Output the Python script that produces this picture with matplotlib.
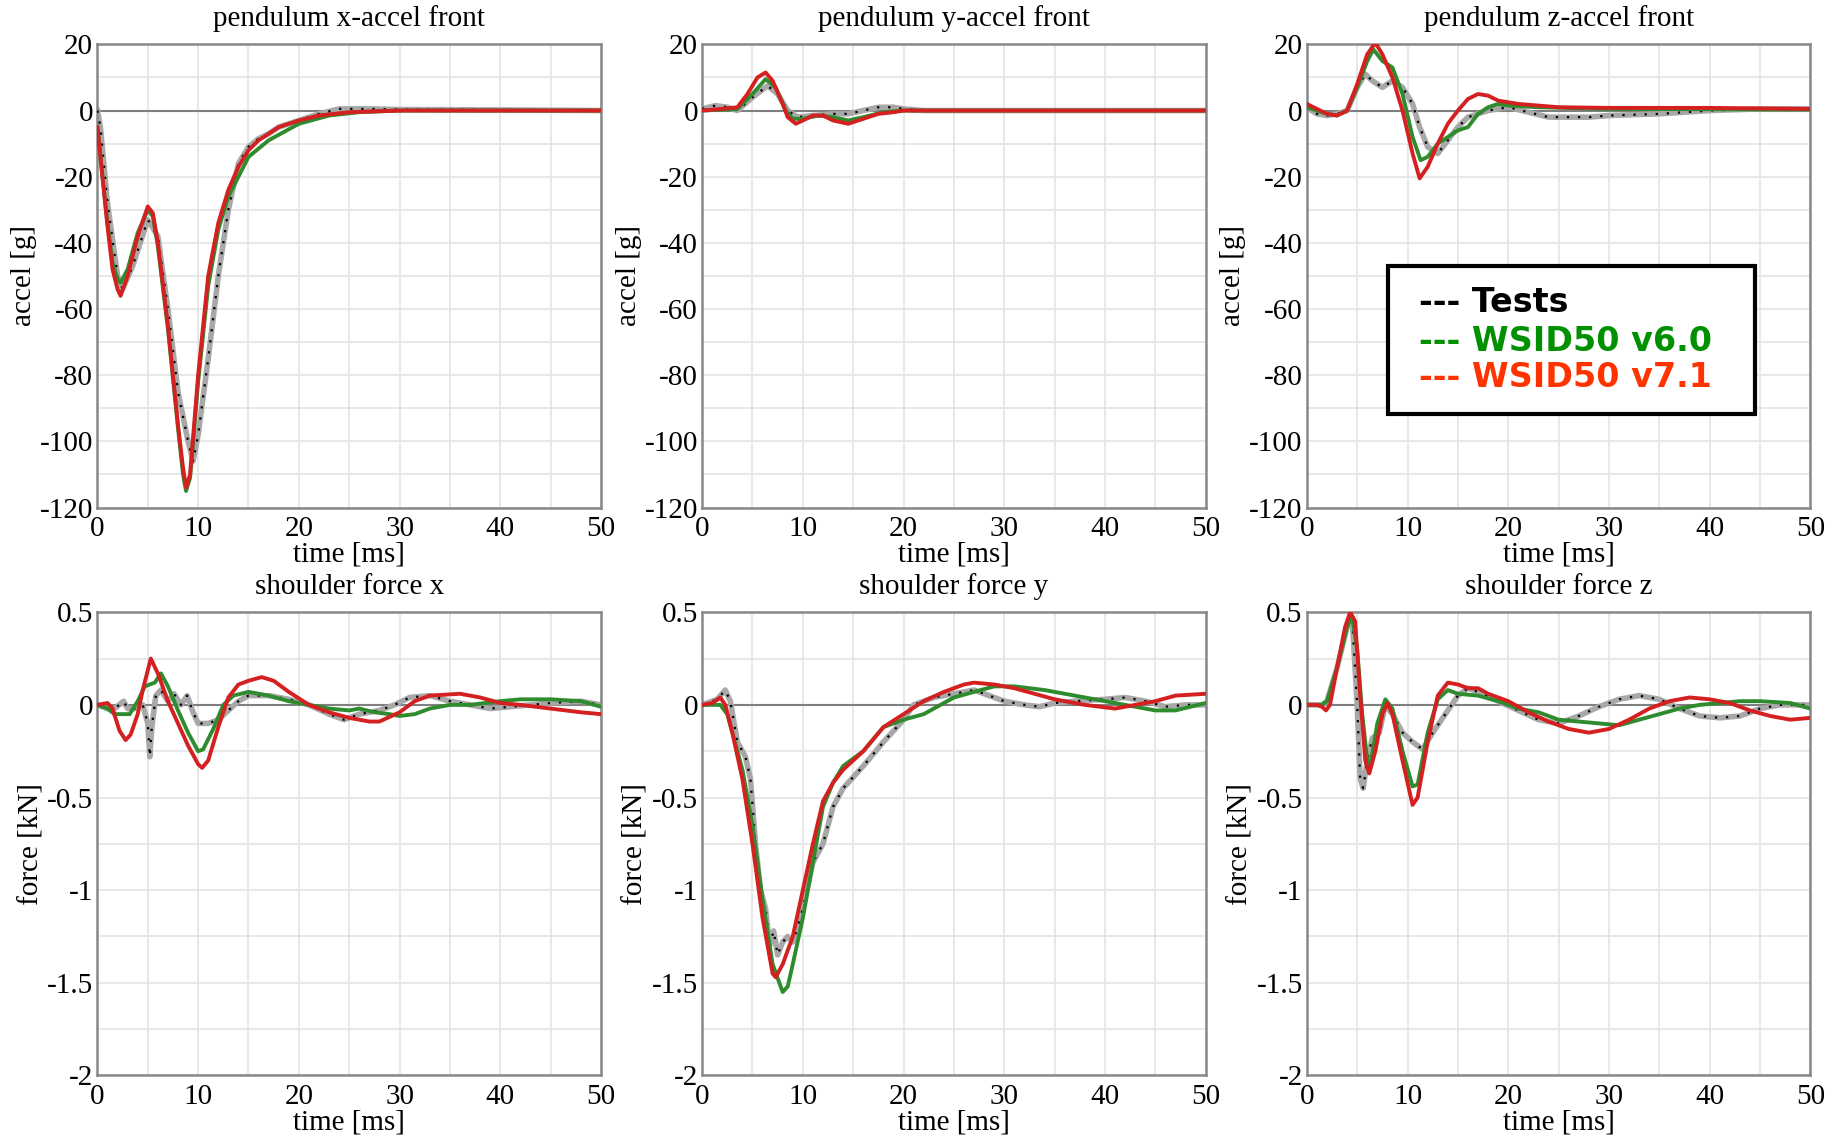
import numpy as np
import matplotlib.pyplot as plt
from matplotlib.patches import Rectangle

plt.rcParams['font.family'] = ['Liberation Serif', 'DejaVu Serif']
plt.rcParams['axes.unicode_minus'] = False

# ---- pendulum x-accel front [g] ----
px_test_t = [0, 0.3, 1, 2, 2.5, 3.5, 5, 6, 7, 8, 9, 9.5, 10, 11, 12, 13, 14, 15, 16, 17, 18, 20, 22, 24, 27, 30, 40, 50]
px_test_v = [0, -5, -28, -50, -54, -47, -33, -38, -60, -85, -100, -106, -98, -75, -50, -30, -16, -11, -8.5, -7, -5, -3, -1, 0.5, 0.5, 0.3, 0.2, 0]
px_v6_t = [0, 0.5, 1, 1.5, 2, 2.3, 3, 4, 5, 5.5, 6, 7, 8, 8.5, 8.8, 9.2, 10, 11, 12, 13, 15, 17, 20, 23, 26, 30, 50]
px_v6_v = [-5, -20, -34, -46, -51, -52, -48, -37, -30, -32, -41, -66, -96, -110, -115, -111, -82, -53, -36, -26, -14, -9, -4, -1.5, -0.5, 0, 0]
px_v7_t = [0, 0.5, 1, 1.5, 2, 2.3, 3, 4, 5, 5.5, 6, 7, 8, 8.5, 8.8, 9.2, 10, 11, 12, 13, 14, 15, 16, 18, 20, 22, 25, 30, 50]
px_v7_v = [-5, -20, -35, -48, -54, -56, -50, -38, -29, -31, -40, -65, -95, -108, -114, -110, -80, -50, -34, -24, -17, -12, -9, -5, -3, -1.5, -0.5, 0, 0]

# ---- pendulum y-accel front [g] ----
py_test_t = [0, 1.3, 2.5, 3.5, 5, 6.5, 7.5, 8.5, 9.5, 11, 13, 14.5, 16, 17.5, 19, 20, 22, 50]
py_test_v = [0.5, 1.5, 1, 0, 4, 7.5, 5, 0, -2, -1.5, -1, -1, 0, 1, 1, 0.5, 0, 0]
py_v6_t = [0, 3.5, 5, 6.3, 7.3, 8.3, 9, 10, 11.5, 13, 14.5, 16, 18, 20, 50]
py_v6_v = [0, 0.5, 5, 9.5, 7, 0, -2.5, -2.5, -1.5, -2, -3, -2, -0.5, 0, 0]
py_v7_t = [0, 2, 3.5, 4.5, 5.5, 6.3, 7, 8, 8.5, 9.3, 10, 11, 12, 13, 14.5, 16, 17.5, 19, 20, 50]
py_v7_v = [0, 0.5, 1, 5, 10, 11.5, 9, 2, -2, -4, -3, -1.5, -1.5, -3, -4, -2.5, -1, -0.5, 0, 0]

# ---- pendulum z-accel front [g] ----
pz_test_t = [0, 1, 2, 3, 4, 5, 5.8, 6.5, 7.5, 8.5, 9.5, 10.5, 11.2, 12, 13, 14, 15, 16, 17, 18, 20, 22, 24, 26, 28, 30, 35, 40, 45, 50]
pz_test_v = [1, -1, -1.5, -1, 0, 7, 11, 9, 7, 9, 7, 2, -5, -11, -13, -9, -5, -2, -1, 0, 1, -0.5, -2, -2, -2, -1.5, -1, 0, 0.5, 0.5]
pz_v6_t = [0, 2, 3, 4, 5, 6, 6.6, 7.5, 8.5, 9.5, 10.5, 11.3, 12, 13, 14, 15, 16, 17, 18, 19, 20, 23, 30, 50]
pz_v6_v = [1, -1, -1.5, 0, 7, 15, 18.5, 15, 13, 5, -8, -15, -14, -10, -8, -6, -5, -1, 1, 2, 1.5, 1, 0.5, 0.3]
pz_v7_t = [0, 1, 2, 3, 4, 5, 6, 6.8, 7.5, 8.5, 9.5, 10.5, 11.2, 12, 13, 14, 15, 16, 17, 18, 19, 21, 25, 30, 40, 50]
pz_v7_v = [2, 0.5, -1, -1.5, 0, 8, 17, 20.5, 17, 10, 0, -13, -20.5, -17, -10, -4, 0, 3.5, 5, 4.5, 3, 2, 1, 0.8, 0.8, 0.5]

# ---- shoulder force x [kN] ----
fx_test_t = [0, 1.5, 2.6, 3, 3.7, 4.5, 5, 5.2, 5.4, 5.8, 6.3, 7, 7.6, 8.3, 8.9, 9.5, 10, 11, 12, 13, 14, 15, 17, 19, 21, 23, 24.5, 26, 28, 29.5, 31, 33, 35, 37, 39, 41, 43, 45, 48, 50]
fx_test_v = [0, -0.03, 0.02, -0.02, -0.02, 0, -0.1, -0.28, -0.12, 0.05, 0.08, 0.02, 0.06, 0, 0.05, -0.04, -0.1, -0.1, -0.08, -0.03, 0.02, 0.05, 0.05, 0.03, 0, -0.05, -0.08, -0.05, -0.03, 0, 0.04, 0.05, 0.02, 0, -0.02, -0.01, 0, 0.01, 0.02, 0]
fx_v6_t = [0, 1, 1.7, 3.2, 4, 4.7, 5.7, 6.3, 7, 8, 9, 10, 10.5, 11.5, 12.5, 13.5, 15, 17, 19, 21, 23, 25, 26, 27.5, 29, 30, 31.5, 33, 35, 37, 40, 42, 45, 48, 50]
fx_v6_v = [0, -0.02, -0.05, -0.05, 0.02, 0.1, 0.12, 0.17, 0.1, -0.03, -0.15, -0.25, -0.24, -0.13, 0, 0.05, 0.07, 0.05, 0.02, 0, -0.02, -0.03, -0.02, -0.04, -0.05, -0.06, -0.05, -0.02, 0, 0, 0.02, 0.03, 0.03, 0.02, -0.01]
fx_v7_t = [0, 1, 1.5, 2.2, 2.8, 3.3, 4, 4.5, 5.3, 6, 7, 8, 9, 10, 10.4, 11, 12, 13, 14, 15, 16.3, 17.5, 19, 21, 23, 25, 27, 28, 30, 31.5, 33, 36, 38, 40, 42, 45, 48, 50]
fx_v7_v = [0, 0.01, -0.02, -0.14, -0.19, -0.16, -0.05, 0.08, 0.25, 0.17, 0.02, -0.1, -0.22, -0.32, -0.34, -0.3, -0.12, 0.04, 0.11, 0.13, 0.15, 0.13, 0.07, 0, -0.04, -0.07, -0.09, -0.09, -0.04, 0.02, 0.05, 0.06, 0.04, 0.01, 0, -0.02, -0.04, -0.05]

# ---- shoulder force y [kN] ----
fy_test_t = [0, 1.5, 2.3, 2.8, 3.5, 4.3, 4.8, 5.3, 5.8, 6.3, 6.7, 7.1, 7.5, 8, 8.5, 9, 9.5, 10, 11, 12, 13, 14, 16, 18, 20, 21, 23, 25, 27, 28.5, 30, 32, 33.5, 35, 37, 40, 42, 44, 46, 48, 50]
fy_test_v = [0, 0.03, 0.08, 0.02, -0.2, -0.28, -0.4, -0.75, -1.0, -1.1, -1.3, -1.22, -1.35, -1.28, -1.25, -1.28, -1.2, -1.1, -0.85, -0.75, -0.55, -0.45, -0.33, -0.2, -0.08, 0, 0.04, 0.06, 0.08, 0.05, 0.02, 0, -0.01, 0.01, 0.02, 0.03, 0.04, 0.02, -0.01, 0, 0]
fy_v6_t = [0, 1.8, 2.5, 3, 4, 5, 6, 7, 8, 8.5, 9, 10, 11, 12, 13, 14, 16, 18, 20, 22, 23, 25, 27, 29, 31, 34, 37, 40, 43, 45, 47, 50]
fy_v6_v = [0, 0, -0.05, -0.15, -0.35, -0.65, -1.05, -1.4, -1.55, -1.52, -1.4, -1.15, -0.85, -0.55, -0.42, -0.33, -0.25, -0.12, -0.08, -0.05, -0.02, 0.04, 0.07, 0.1, 0.1, 0.08, 0.05, 0.02, -0.01, -0.03, -0.03, 0.01]
fy_v7_t = [0, 1, 1.8, 2.3, 3, 4, 5, 6, 7, 7.3, 8, 9, 10, 11, 12, 13, 14, 16, 18, 20, 22, 24, 26, 27, 29, 31, 33, 35, 38, 41, 43, 45, 47, 50]
fy_v7_v = [0, 0.01, 0.04, 0, -0.15, -0.4, -0.75, -1.15, -1.45, -1.47, -1.4, -1.25, -1.0, -0.75, -0.52, -0.42, -0.35, -0.25, -0.12, -0.05, 0.02, 0.07, 0.11, 0.12, 0.11, 0.09, 0.06, 0.03, 0, -0.02, 0, 0.02, 0.05, 0.06]

# ---- shoulder force z [kN] ----
fz_test_t = [0, 1.5, 2, 3, 4, 4.5, 5, 5.3, 5.6, 6, 6.5, 7.2, 7.8, 8.5, 9.5, 10.5, 11.5, 12.5, 14, 15, 16, 17, 19, 21, 23, 25, 27, 29, 31, 33, 35, 37, 39, 41, 43, 45, 47, 50]
fz_test_v = [0, 0, 0.02, 0.2, 0.42, 0.47, 0, -0.4, -0.45, -0.3, -0.18, -0.15, 0, -0.05, -0.15, -0.2, -0.24, -0.15, -0.03, 0.05, 0.09, 0.07, 0.02, -0.03, -0.08, -0.1, -0.06, -0.01, 0.03, 0.05, 0.03, -0.02, -0.06, -0.07, -0.06, -0.02, 0, 0]
fz_v6_t = [0, 1.5, 2, 3, 4, 4.5, 5, 5.5, 6, 6.3, 7, 7.8, 8.5, 9.5, 10.5, 11, 12, 13, 14, 15, 17, 19, 21, 23, 25, 27, 29, 31, 33, 35, 37, 39, 41, 43, 45, 48, 50]
fz_v6_v = [0, 0, 0.02, 0.2, 0.42, 0.48, 0.3, -0.05, -0.3, -0.33, -0.1, 0.03, -0.02, -0.25, -0.44, -0.43, -0.15, 0.03, 0.08, 0.06, 0.05, 0.02, -0.02, -0.04, -0.08, -0.09, -0.1, -0.11, -0.08, -0.05, -0.02, 0, 0.01, 0.02, 0.02, 0.01, -0.02]
fz_v7_t = [0, 1, 1.5, 1.9, 2.3, 3, 3.8, 4.3, 4.8, 5.3, 5.8, 6.2, 6.8, 7.5, 8, 8.5, 9.5, 10.5, 11, 12, 13, 14, 15, 16, 17, 18, 20, 22, 24, 26, 28, 30, 32, 34, 36, 38, 40, 42, 44, 46, 48, 50]
fz_v7_v = [0, 0, -0.01, -0.03, 0, 0.2, 0.42, 0.5, 0.45, 0.05, -0.3, -0.37, -0.25, -0.05, 0.01, -0.05, -0.3, -0.54, -0.5, -0.2, 0.05, 0.12, 0.11, 0.09, 0.09, 0.06, 0.02, -0.04, -0.09, -0.13, -0.15, -0.13, -0.08, -0.02, 0.02, 0.04, 0.03, 0.01, -0.03, -0.06, -0.08, -0.07]

panels = [
    ("pendulum x-accel front", "accel [g]", (px_test_t, px_test_v), (px_v6_t, px_v6_v), (px_v7_t, px_v7_v)),
    ("pendulum y-accel front", "accel [g]", (py_test_t, py_test_v), (py_v6_t, py_v6_v), (py_v7_t, py_v7_v)),
    ("pendulum z-accel front", "accel [g]", (pz_test_t, pz_test_v), (pz_v6_t, pz_v6_v), (pz_v7_t, pz_v7_v)),
    ("shoulder force x", "force [kN]", (fx_test_t, fx_test_v), (fx_v6_t, fx_v6_v), (fx_v7_t, fx_v7_v)),
    ("shoulder force y", "force [kN]", (fy_test_t, fy_test_v), (fy_v6_t, fy_v6_v), (fy_v7_t, fy_v7_v)),
    ("shoulder force z", "force [kN]", (fz_test_t, fz_test_v), (fz_v6_t, fz_v6_v), (fz_v7_t, fz_v7_v)),
]

green = "#2e8b2e"
red = "#d42020"
fs = 21

fig = plt.figure(figsize=(18.38, 11.38), dpi=100)
lefts = [0.053, 0.382, 0.711]
rows = [(0.554, 0.407), (0.055, 0.407)]

for i, (title, ylab, test, v6, v7) in enumerate(panels):
    r, c = divmod(i, 3)
    ax = fig.add_axes([lefts[c], rows[r][0], 0.274, rows[r][1]])
    ax.set_xlim(0, 50)
    if r == 0:
        ax.set_ylim(-120, 20)
        ax.set_yticks(np.arange(-120, 21, 20))
        ax.set_yticks(np.arange(-120, 21, 10), minor=True)
    else:
        ax.set_ylim(-2, 0.5)
        ax.set_yticks([-2, -1.5, -1, -0.5, 0, 0.5])
        ax.set_yticklabels(["-2", "-1.5", "-1", "-0.5", "0", "0.5"])
        ax.set_yticks(np.arange(-2, 0.51, 0.25), minor=True)
    ax.set_xticks(np.arange(0, 51, 10))
    ax.set_xticks(np.arange(0, 51, 5), minor=True)
    ax.grid(True, which="both", color="#e4e4e4", lw=1.2)
    ax.set_axisbelow(True)
    ax.axhline(0, color="#808080", lw=1.5, zorder=1)
    ax.tick_params(which="both", length=0, labelsize=fs)
    ax.tick_params(axis="x", pad=6)
    ax.tick_params(axis="y", pad=3)
    for s in ax.spines.values():
        s.set_color("#888888")
        s.set_linewidth(1.8)

    ax.plot(test[0], test[1], color="#a8a8a8", lw=4, zorder=2)
    ax.plot(test[0], test[1], color="black", lw=1.6, ls=(0, (1, 4)), zorder=3)
    ax.plot(v6[0], v6[1], color=green, lw=2.8, zorder=4)
    ax.plot(v7[0], v7[1], color=red, lw=2.8, zorder=5)

    ax.set_title(title, fontsize=fs, pad=13)
    ax.set_ylabel(ylab, fontsize=fs, labelpad=2)
    ax.set_xlabel("time [ms]", fontsize=fs, labelpad=0)

# legend box
fig.patches.append(Rectangle((0.755, 0.636), 0.2, 0.13, transform=fig.transFigure,
                             facecolor="white", edgecolor="black", lw=3, zorder=10))
leg = [("--- Tests", "black", 0.734), ("--- WSID50 v6.0", "#009000", 0.700), ("--- WSID50 v7.1", "#ff3300", 0.668)]
for txt, col, yy in leg:
    fig.text(0.772, yy, txt, color=col, fontsize=24, fontweight="bold",
             family="DejaVu Sans", va="center", ha="left", zorder=11)

fig.savefig("out.png", dpi=100)
